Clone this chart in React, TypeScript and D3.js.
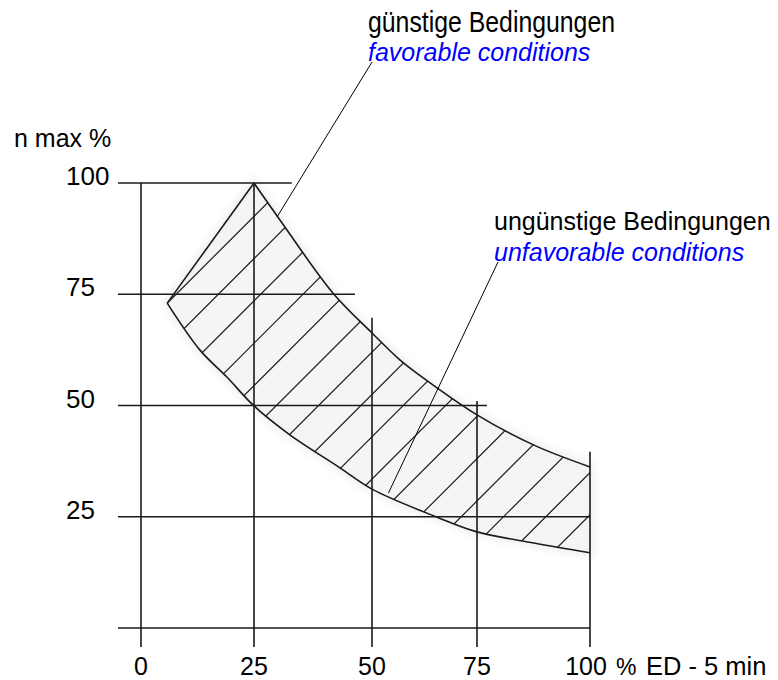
import * as d3 from 'd3'

// axis ticks (percent)
const X_TICKS = [0, 25, 50, 75, 100]
const Y_TICKS = [25, 50, 75, 100]

// grid lines: horizontal ones stop at `end` (x value), vertical ones start at `top` (y value)
const H_LINES = [
  { v: 100, end: 33 },
  { v: 75, end: 46.4 },
  { v: 50, end: 77.2 },
  { v: 25, end: 100 },
  { v: 0, end: 100 },
]
const V_LINES = [
  { v: 0, top: 100 },
  { v: 25, top: 100 },
  { v: 50, top: 69.7 },
  { v: 75, top: 51 },
  { v: 100, top: 39.6 },
]

// band boundaries [ED %, n max %]
const UPPER: [number, number][] = [
  [25, 100], [30.5, 91.7], [41.7, 75.3], [50, 66.3], [56.7, 60.2],
  [61.2, 56.9], [75, 47.9], [87.6, 41.1], [100, 36.2],
]
const LOWER: [number, number][] = [
  [5.8, 73], [13, 62.5], [19, 56.4], [25, 49.9], [32.6, 43.4],
  [43.2, 36], [50, 31.2], [65.5, 24.9], [75, 21.6], [87.6, 19.1], [100, 16.9],
]

// leader lines end on the curves
const FAV_TARGET: [number, number] = [29.9, 92.4]
const UNFAV_TARGET: [number, number] = [53.9, 30.3]

const W = 778
const H = 680
const FONT = '"Liberation Sans", Arial, sans-serif'

export default function App() {
  // the printed axis is not quite even, so map each tick to its position
  const x = d3.scaleLinear().domain([0, 25, 50, 75, 100]).range([141, 254, 372, 477, 590])
  const y = d3.scaleLinear().domain([0, 100]).range([628, 183])

  const upperPx = UPPER.map(([a, b]) => [x(a), y(b)] as [number, number])
  const lowerPx = LOWER.map(([a, b]) => [x(a), y(b)] as [number, number])

  const curve = d3.line().curve(d3.curveCatmullRom.alpha(0.5))
  const upperPath = curve(upperPx) ?? ''
  const lowerPath = curve(lowerPx) ?? ''
  const bandPath =
    upperPath +
    'L' + lowerPx[lowerPx.length - 1].join(',') +
    (curve(lowerPx.slice().reverse()) ?? '').replace(/^M/, 'L') +
    'Z'

  // 45 degree hatch lines x + y = c, first one through the left corner
  const c0 = lowerPx[0][0] + lowerPx[0][1]
  const step = 42.3
  const hatch = d3.range(0, 17).map(k => c0 + k * step)

  const stroke = '#1a1a1a'

  return (
    <div style={{ position: 'absolute', left: 0, top: 0 }}>
      <svg width={W} height={H} style={{ display: 'block', background: '#fff' }} fontFamily={FONT}>
        <defs>
          <clipPath id="band">
            <path d={bandPath} />
          </clipPath>
          <filter id="soft" x="-10%" y="-10%" width="120%" height="120%">
            <feGaussianBlur stdDeviation="3" />
          </filter>
        </defs>

        {/* faint grey scan texture */}
        <path d={bandPath} fill="#f5f5f5" stroke="#f3f3f3" strokeWidth={10} filter="url(#soft)" />

        <g clipPath="url(#band)" stroke={stroke} strokeWidth={1.2}>
          {hatch.map((c, i) => (
            <line key={i} x1={c - 700} y1={700} x2={c} y2={0} />
          ))}
        </g>

        <g stroke={stroke} strokeWidth={1.6}>
          {H_LINES.map(d => (
            <line key={'h' + d.v} x1={118} x2={x(d.end)} y1={y(d.v)} y2={y(d.v)} />
          ))}
          {V_LINES.map(d => (
            <line key={'v' + d.v} x1={x(d.v)} x2={x(d.v)} y1={y(d.top)} y2={647} />
          ))}
        </g>

        <g fill="none" stroke={stroke} strokeWidth={1.6}>
          <path d={upperPath} />
          <path d={lowerPath} />
          <line x1={lowerPx[0][0]} y1={lowerPx[0][1]} x2={upperPx[0][0]} y2={upperPx[0][1]} />
        </g>

        <g stroke="#000" strokeWidth={1}>
          <line x1={372} y1={62} x2={x(FAV_TARGET[0])} y2={y(FAV_TARGET[1])} />
          <line x1={498} y1={262} x2={x(UNFAV_TARGET[0])} y2={y(UNFAV_TARGET[1])} />
        </g>

        <g fontSize={26} fill="#000">
          {Y_TICKS.map(t => (
            <text key={t} x={66} y={y(t) + 2}>{t}</text>
          ))}
        </g>
        <text x={14} y={147} fontSize={25}>n max %</text>

        <g fontSize={25} fill="#000" textAnchor="middle">
          {X_TICKS.map(t => (
            <text key={t} x={x(t) - (t === 100 ? 4 : 0)} y={675}>{t}</text>
          ))}
        </g>
        <text x={616} y={675} fontSize={23}>%</text>
        <text x={646} y={675} fontSize={25.5}>ED - 5 min</text>

        <text x={368} y={32} fontSize={30} textLength={247} lengthAdjust="spacingAndGlyphs">
          günstige Bedingungen
        </text>
        <text x={368} y={61} fontSize={25} fill="#0000ff" fontStyle="italic">favorable conditions</text>
        <text x={494} y={230} fontSize={25}>ungünstige Bedingungen</text>
        <text x={494} y={261} fontSize={25} fill="#0000ff" fontStyle="italic">unfavorable conditions</text>
      </svg>
    </div>
  )
}
